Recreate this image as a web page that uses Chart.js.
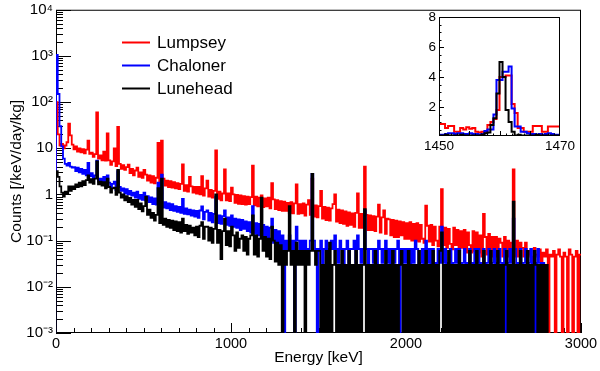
<!DOCTYPE html>
<html>
<head>
<meta charset="utf-8">
<script src="https://cdn.jsdelivr.net/npm/chart.js@4/dist/chart.umd.min.js"></script>
<style>
html, body { margin: 0; padding: 0; background: #fff; }
#wrap { position: relative; width: 600px; height: 371px; }
#main { position: absolute; left: 0; top: 0; }
#inset { position: absolute; left: 400px; top: 0; }
</style>
</head>
<body>
<div id="wrap">
<canvas id="main" width="600" height="371"></canvas>
<canvas id="inset" width="190" height="160"></canvas>
</div>
<script>
// spectra, counts per 10 keV bin starting at 0 keV
var binStart = 0;
var binWidth = 10;

var lumpsey = [
  100, 20, 11.5, 12.5, 10, 11.5, 13.5, 34, 19, 12,
  9.5, 11, 8.5, 10, 8.2, 9.6, 7.8, 9.4, 14.6, 7.6,
  8, 6.5, 7.5, 60, 6, 7, 5.5, 8.5, 5.4, 21,
  5.5, 4.4, 5.2, 10, 4.1, 29, 4.6, 3.6, 4.3, 3.4,
  3.9, 4.4, 2.9, 3.6, 2.6, 3.3, 3.8, 2.4, 3.0, 2.3,
  3.4, 2.7, 2.0, 2.6, 1.8, 2.5, 1.75, 2.3, 13, 1.65,
  14.6, 2.2, 1.55, 2.0, 1.45, 1.95, 1.4, 1.85, 1.35, 1.75,
  1.3, 1.7, 4.5, 1.2, 1.6, 1.15, 2.4, 1.5, 1.1, 1.45,
  1.05, 1.45, 1.0, 2.5, 0.95, 1.35, 2.0, 0.9, 1.25, 0.85,
  1.2, 9, 0.8, 1.15, 0.75, 1.05, 3.5, 0.75, 1.05, 0.72,
  1.4, 1.0, 0.66, 0.98, 0.63, 0.95, 0.62, 0.92, 0.6, 0.9,
  0.62, 0.88, 4.2, 0.58, 0.9, 0.55, 0.85, 0.95, 0.53, 0.82,
  0.55, 0.85, 0.5, 1.75, 0.78, 0.48, 0.75, 0.46, 0.72, 0.44,
  0.7, 0.44, 0.66, 0.4, 0.68, 0.39, 0.64, 1.65, 0.38, 0.62,
  0.39, 0.64, 0.35, 0.6, 0.75, 0.36, 2.2, 0.33, 0.58, 0.32,
  0.56, 1.2, 0.3, 0.54, 0.28, 0.52, 0.27, 0.5, 0.62, 1.0,
  0.26, 0.47, 0.24, 0.45, 0.23, 0.43, 0.21, 0.41, 0.22, 0.39,
  0.2, 0.4, 1.06, 0.19, 0.38, 0.19, 4.0, 0.36, 0.17, 0.35,
  0.17, 0.34, 0.16, 0.33, 0.6, 0.15, 0.32, 0.45, 0.14, 0.3,
  0.29, 0.13, 0.28, 0.12, 0.27, 0.12, 0.26, 0.13, 0.25, 0.11,
  0.24, 0.11, 0.25, 0.1, 0.23, 0.1, 0.24, 0.095, 0.22, 0.11,
  0.09, 0.57, 0.21, 0.095, 0.22, 0.08, 0.2, 0.1, 0.075, 0.2,
  1.3, 0.08, 0.19, 0.07, 0.18, 0.085, 0.065, 0.19, 0.08, 0.17,
  0.065, 0.16, 0.07, 0.17, 0.055, 0.15, 0.08, 0.055, 0.16, 0.06,
  0.15, 0.055, 0.13, 0.045, 0.38, 0.12, 0.05, 0.14, 0.045, 0.12,
  0.045, 0.12, 0.045, 0.11, 0.09, 0.045, 0.12, 0.045, 0.1, 0.045,
  0.09, 3.5, 0.045, 0.1, 0.045, 0.09, 0.07, 0.045, 0.09, 0.05,
  0.06, 0.045, 0, 0.07, 0.05, 0.045, 0.065, 0, 0.055, 0.045,
  0.065, 0, 0.05, 0.045, 0.06, 0, 0.05, 0.065, 0.045, 0,
  0.055, 0.045, 0, 0.065, 0.05, 0, 0.045, 0.06, 0, 0.05
];

var chaloner = [
  1050, 150, 30, 11, 6, 4.6, 4.2, 4.8, 4.0, 3.8,
  3.9, 3.2, 3.8, 3.0, 3.6, 2.8, 3.4, 2.6, 4.8, 2.5,
  2.9, 2.2, 2.6, 5.4, 1.9, 2.2, 1.8, 2.4, 1.55, 2.6,
  1.8, 1.45, 1.7, 1.9, 1.25, 3.2, 1.45, 1.2, 1.35, 1.05,
  1.3, 1.0, 1.2, 0.95, 1.1, 0.85, 1.15, 0.8, 0.98, 0.76,
  1.1, 0.75, 0.92, 0.68, 0.86, 0.62, 0.82, 0.6, 1.8, 0.55,
  2.7, 0.52, 0.68, 0.5, 0.64, 0.46, 0.62, 0.44, 0.56, 0.42,
  0.54, 0.4, 0.8, 0.38, 0.5, 0.37, 0.47, 0.35, 0.45, 0.33,
  0.44, 0.31, 0.45, 0.55, 0.29, 0.42, 0.45, 0.27, 0.4, 0.25,
  0.38, 0.9, 0.24, 0.35, 0.23, 0.34, 0.45, 0.22, 0.32, 0.21,
  0.35, 0.2, 0.3, 0.19, 0.29, 0.17, 0.28, 0.18, 0.26, 0.16,
  0.25, 0.15, 0.56, 0.14, 0.24, 0.13, 0.23, 0.12, 0.22, 0.12,
  0.2, 0.1, 0.19, 0.3, 0.09, 0.17, 0.08, 0.16, 0.066, 0.13,
  0, 0.1, 0.066, 0.13, 0.066, 0.1, 0, 0.2, 0.1, 0.066,
  0.1, 0.066, 0.1, 0.033, 0.066, 0.1, 2.8, 0.1, 0.066, 0,
  0.066, 0.1, 0, 0.066, 0.1, 0.033, 0.066, 0.1, 0.066, 0.13,
  0.066, 0.033, 0.1, 0.066, 0, 0.066, 0.1, 0.033, 0.066, 0.066,
  0.1, 0.033, 0.13, 0.066, 0.033, 0.066, 0.45, 0.066, 0, 0.066,
  0.066, 0.033, 0.066, 0, 0.1, 0.066, 0.033, 0.066, 0.1, 0.033,
  0.066, 0, 0.066, 0.033, 0.066, 0.1, 0, 0.066, 0.033, 0.066,
  0.033, 0.066, 0, 0.066, 0.033, 0.1, 0.066, 0, 0.033, 0.066,
  0, 0.1, 0.033, 0.066, 0, 0.066, 0.033, 0, 0.066, 0.033,
  0.2, 0.033, 0.066, 0, 0.033, 0.066, 0, 0.033, 0.066, 0.033,
  0.066, 0, 0.033, 0.066, 0, 0.033, 0.066, 0.033, 0, 0.066,
  0.033, 0.066, 0, 0.033, 0.066, 0, 0.033, 0.066, 0, 0.033,
  0.066, 0, 0.033, 0.066, 0.033, 0, 0.066, 0, 0.033, 0.066,
  0.033, 0.3, 0.066, 0, 0.033, 0.066, 0, 0.033, 0.066, 0,
  0.033, 0.066, 0, 0.033, 0, 0.066, 0.033, 0, 0.033, 0,
  0, 0, 0, 0, 0, 0, 0, 0, 0, 0,
  0, 0, 0, 0, 0, 0, 0, 0, 0, 0
];

var lunehead = [
  3.2, 2.4, 1.5, 1.1, 0.9, 1.15, 1.05, 1.5, 1.2, 1.5,
  1.3, 1.65, 1.45, 1.8, 1.5, 1.95, 1.6, 2.05, 2.6, 1.8,
  2.15, 1.7, 2.2, 5.2, 1.65, 1.9, 1.55, 1.85, 1.35, 2.2,
  1.45, 1.1, 1.35, 1.4, 0.98, 3.4, 1.1, 0.85, 1.0, 0.75,
  0.92, 0.68, 0.84, 0.6, 0.76, 0.54, 0.76, 0.48, 0.64, 0.43,
  0.56, 0.9, 0.36, 0.47, 0.31, 0.4, 0.27, 0.36, 1.37, 0.24,
  2.2, 0.22, 0.3, 0.2, 0.28, 0.19, 0.27, 0.17, 0.26, 0.16,
  0.25, 0.15, 0.3, 0.16, 0.22, 0.14, 0.21, 0.15, 0.19, 0.13,
  0.2, 0.12, 0.21, 0.25, 0.11, 0.2, 0.2, 0.1, 0.19, 0.09,
  0.18, 1.0, 0.09, 0.17, 0.04, 0.16, 0.3, 0.08, 0.16, 0.075,
  0.2, 0.13, 0.06, 0.15, 0.07, 0.11, 0.13, 0.06, 0.12, 0.05,
  0.11, 0.13, 0.35, 0.05, 0.13, 0.045, 0.11, 0.85, 0.06, 0.12,
  0.045, 0.11, 0.04, 0.2, 0.1, 0.035, 0.09, 0.03, 0.08, 0,
  0.06, 0.03, 0.06, 0.56, 0.03, 0.06, 0, 0.09, 0.03, 0.06,
  0.03, 0.06, 0, 0.06, 0.03, 0.06, 2.8, 0.06, 0.03, 0.06,
  0.06, 0, 0.03, 0, 0.06, 0, 0.09, 0, 0.03, 0.06,
  0, 0.03, 0, 0.06, 0, 0.03, 0, 0.06, 0, 0.03,
  0, 0.06, 0, 0.03, 0, 0.03, 0.48, 0, 0.03, 0,
  0.03, 0, 0.06, 0, 0.03, 0, 0.03, 0, 0.06, 0,
  0.03, 0, 0.06, 0, 0.03, 0, 0.03, 0.06, 0, 0.03,
  0, 0.06, 0, 0.03, 0, 0.03, 0, 0.06, 0, 0.03,
  0, 0.06, 0, 0.03, 0, 0.06, 0, 0.03, 0, 0.06,
  0.15, 0, 0.03, 0, 0.06, 0, 0.03, 0, 0.03, 0,
  0.06, 0, 0.03, 0, 0.03, 0, 0.06, 0, 0.03, 0,
  0.06, 0, 0.03, 0, 0.06, 0, 0.03, 0, 0.06, 0,
  0.03, 0, 0.06, 0, 0.03, 0, 0.03, 0.06, 0, 0.03,
  0, 0.7, 0, 0.03, 0, 0.06, 0, 0.03, 0, 0.06,
  0, 0.03, 0, 0.06, 0.03, 0, 0.03, 0, 0.03, 0,
  0.03, 0, 0, 0, 0, 0, 0, 0, 0, 0,
  0, 0, 0, 0, 0, 0, 0, 0, 0, 0
];

// inset: 1460 keV line, 0.5 keV bins from 1450 keV
var insetStart = 1450;
var insetBin = 0.5;
var insetLumpsey = [0.87, 0.87, 0.6, 0.73, 0.73, 0.35, 0.35, 0.6, 0.5, 0.65, 0.55, 0.6, 0.35, 0.3, 0.35, 0.35, 0.8, 1.0, 1.2, 1.8,
  4.0, 4.0, 4.1, 4.1, 2.2, 1.6, 0.6, 0.6, 0.35, 0.35, 0.35, 0.73, 0.73, 0.73, 0.35, 0.35, 0.7, 0.7, 0.7, 0.7];
var insetChaloner = [0.15, 0.15, 0.2, 0.25, 0.25, 0.2, 0.25, 0.25, 0.2, 0.2, 0.25, 0.2, 0.2, 0.15, 0.2, 0.4, 0.5, 0.5, 1.5, 3.8,
  3.8, 4.35, 4.35, 4.7, 1.9, 0.7, 0.7, 0.35, 0.35, 0.25, 0.2, 0.2, 0.15, 0.2, 0.15, 0.2, 0.25, 0.2, 0.15, 0.15];
var insetLunehead = [0.1, 0.1, 0.15, 0.1, 0.1, 0.1, 0.1, 0.15, 0.1, 0.1, 0.1, 0.1, 0.1, 0.1, 0.15, 0.25, 0.3, 0.8, 1.25, 2.9,
  5.0, 4.0, 1.8, 1.0, 0.35, 0.1, 0.15, 0.1, 0.1, 0.1, 0.1, 0.1, 0.15, 0.1, 0.1, 0.1, 0.1, 0.1, 0.1, 0.1];

var seriesNames = ["Lumpsey", "Chaloner", "Lunehead"];
var xTicks = [0, 1000, 2000, 3000];
var yTicks = [1e-3, 1e-2, 1e-1, 1, 10, 1e2, 1e3, 1e4];
var yTickLabels = ["10\u207B\u00B3", "10\u207B\u00B2", "10\u207B\u00B9", "1", "10", "10\u00B2", "10\u00B3", "10\u2074"];
var insetXTicks = [1450, 1470];
var insetYTicks = [2, 4, 6, 8];

var red = 'rgb(255, 0, 0)';
var blue = 'rgb(0, 0, 255)';
var black = 'rgb(0, 0, 0)';
var fontFamily = '"Liberation Sans", Arial, Helvetica, sans-serif';

// histogram outline as step points (lower bin edges + closing edge).
// empty bins go below the log axis so the outline drops to the frame, like ROOT
function histPoints(values, start, width, zeroFloor) {
    var pts = [];
    function y(v) { return (zeroFloor && v <= 0) ? zeroFloor : v; }
    if (zeroFloor) pts.push({ x: start, y: zeroFloor });
    for (var i = 0; i < values.length; i++) {
        pts.push({ x: start + i * width, y: y(values[i]) });
    }
    pts.push({ x: start + values.length * width, y: y(values[values.length - 1]) });
    return pts;
}

function dataset(label, values, start, width, color, order, lw, zeroFloor) {
    return {
        label: label,
        data: histPoints(values, start, width, zeroFloor),
        borderColor: color,
        backgroundColor: color,
        borderWidth: lw,
        pointRadius: 0,
        stepped: 'before',
        tension: 0,
        fill: false,
        order: order
    };
}

function line(ctx, x1, y1, x2, y2) {
    ctx.beginPath();
    ctx.moveTo(x1, y1);
    ctx.lineTo(x2, y2);
    ctx.stroke();
}

function plainLabel(v) { return String(v); }

// ROOT style frame with inward ticks (under the histograms), legend on top
var mainDecor = {
    id: 'mainDecor',
    beforeDatasetsDraw: function (chart) {
        var ctx = chart.ctx, a = chart.chartArea;
        var xs = chart.scales.x, ys = chart.scales.y;
        ctx.save();
        ctx.strokeStyle = '#000';
        ctx.lineWidth = 1;
        ctx.strokeRect(a.left + 0.5, a.top + 0.5, a.right - a.left - 1, a.bottom - a.top - 1);
        for (var d = -3; d <= 4; d++) {
            for (var m = 1; m <= 9; m++) {
                var v = m * Math.pow(10, d);
                if (v > ys.max * 1.0001) break;
                var y = Math.round(ys.getPixelForValue(v)) + 0.5;
                line(ctx, a.left, y, a.left + (m === 1 ? 15 : 7), y);
            }
        }
        for (var e = 0; e <= 3000; e += 100) {
            var x = Math.round(xs.getPixelForValue(e)) + 0.5;
            line(ctx, x, a.bottom, x, a.bottom - (e % 1000 === 0 ? 10 : 5));
        }
        ctx.restore();
    },
    afterDatasetsDraw: function (chart) {
        var ctx = chart.ctx;
        ctx.save();
        ctx.font = '17px ' + fontFamily;
        ctx.textBaseline = 'middle';
        ctx.textAlign = 'left';
        chart.data.datasets.forEach(function (ds, i) {
            var ly = 42.5 + i * 23;
            ctx.strokeStyle = ds.borderColor;
            ctx.lineWidth = 2;
            line(ctx, 122, ly, 150, ly);
            ctx.fillStyle = '#000';
            ctx.fillText(ds.label, 157, ly + 1);
        });
        ctx.restore();
    }
};

var insetDecor = {
    id: 'insetDecor',
    afterDatasetsDraw: function (chart) {
        var ctx = chart.ctx, a = chart.chartArea;
        var xs = chart.scales.x, ys = chart.scales.y;
        ctx.save();
        ctx.strokeStyle = '#000';
        ctx.lineWidth = 1;
        ctx.strokeRect(a.left + 0.5, a.top + 0.5, a.right - a.left - 1, a.bottom - a.top - 1);
        for (var v = 0.5; v <= 8; v += 0.5) {
            var y = Math.round(ys.getPixelForValue(v)) + 0.5;
            line(ctx, a.left, y, a.left + (v % 2 === 0 ? 5 : 2.5), y);
        }
        for (var e = 1451; e < 1470; e += 1) {
            var x = Math.round(xs.getPixelForValue(e)) + 0.5;
            line(ctx, x, a.bottom, x, a.bottom - (e % 5 === 0 ? 5 : 2.5));
        }
        ctx.restore();
    }
};

var mainChart = new Chart(document.getElementById("main").getContext("2d"), {
    type: 'line',
    data: {
        datasets: [
            dataset(seriesNames[0], lumpsey, binStart, binWidth, red, 3, 1.8, 1e-5),
            dataset(seriesNames[1], chaloner, binStart, binWidth, blue, 2, 1.8, 1e-5),
            dataset(seriesNames[2], lunehead, binStart, binWidth, black, 1, 1.8, 1e-5)
        ]
    },
    options: {
        responsive: false,
        animation: false,
        layout: { padding: { top: 7, right: 19, left: 0, bottom: 0 } },
        plugins: { legend: { display: false }, tooltip: { enabled: false } },
        scales: {
            x: {
                type: 'linear', min: 0, max: 3000,
                grid: { display: false, drawTicks: false },
                border: { display: false },
                afterBuildTicks: function (s) { s.ticks = xTicks.map(function (v) { return { value: v }; }); },
                ticks: { font: { family: fontFamily, size: 14.5 }, color: '#000', padding: 2, maxRotation: 0, autoSkip: false, callback: plainLabel },
                title: { display: true, text: 'Energy [keV]', color: '#000', font: { family: fontFamily, size: 15.5 }, padding: { top: 0, bottom: 4 } },
                afterFit: function (s) { s.height = 38; }
            },
            y: {
                type: 'logarithmic', min: 1e-3, max: 1e4,
                grid: { display: false, drawTicks: false },
                border: { display: false },
                afterBuildTicks: function (s) { s.ticks = yTicks.map(function (v) { return { value: v }; }); },
                ticks: {
                    font: { family: fontFamily, size: 15, lineHeight: 0.9 }, color: '#000', padding: 3, autoSkip: false,
                    callback: function (v, i) { return yTickLabels[i]; }
                },
                title: { display: true, text: 'Counts [/keV/day/kg]', color: '#000', font: { family: fontFamily, size: 15.5 }, padding: { top: 7, bottom: 0 } },
                afterFit: function (s) { s.width = 56; }
            }
        }
    },
    plugins: [mainDecor]
});

var insetChart = new Chart(document.getElementById("inset").getContext("2d"), {
    type: 'line',
    data: {
        datasets: [
            dataset(seriesNames[0], insetLumpsey, insetStart, insetBin, red, 3, 2, 0),
            dataset(seriesNames[1], insetChaloner, insetStart, insetBin, blue, 2, 2, 0),
            dataset(seriesNames[2], insetLunehead, insetStart, insetBin, black, 1, 2, 0)
        ]
    },
    options: {
        responsive: false,
        animation: false,
        layout: { padding: { top: 17, right: 30, left: 0, bottom: 0 } },
        plugins: { legend: { display: false }, tooltip: { enabled: false } },
        scales: {
            x: {
                type: 'linear', min: 1450, max: 1470,
                grid: { display: false, drawTicks: false },
                border: { display: false },
                afterBuildTicks: function (s) { s.ticks = insetXTicks.map(function (v) { return { value: v }; }); },
                ticks: { font: { family: fontFamily, size: 13.5 }, color: '#000', padding: 2, maxRotation: 0, autoSkip: false, callback: plainLabel },
                afterFit: function (s) { s.height = 24; }
            },
            y: {
                type: 'linear', min: 0.07, max: 8,
                grid: { display: false, drawTicks: false },
                border: { display: false },
                afterBuildTicks: function (s) { s.ticks = insetYTicks.map(function (v) { return { value: v }; }); },
                ticks: { font: { family: fontFamily, size: 13.5, lineHeight: 1 }, color: '#000', padding: 3, autoSkip: false, callback: plainLabel },
                afterFit: function (s) { s.width = 39; }
            }
        }
    },
    plugins: [insetDecor]
});
</script>
</body>
</html>
